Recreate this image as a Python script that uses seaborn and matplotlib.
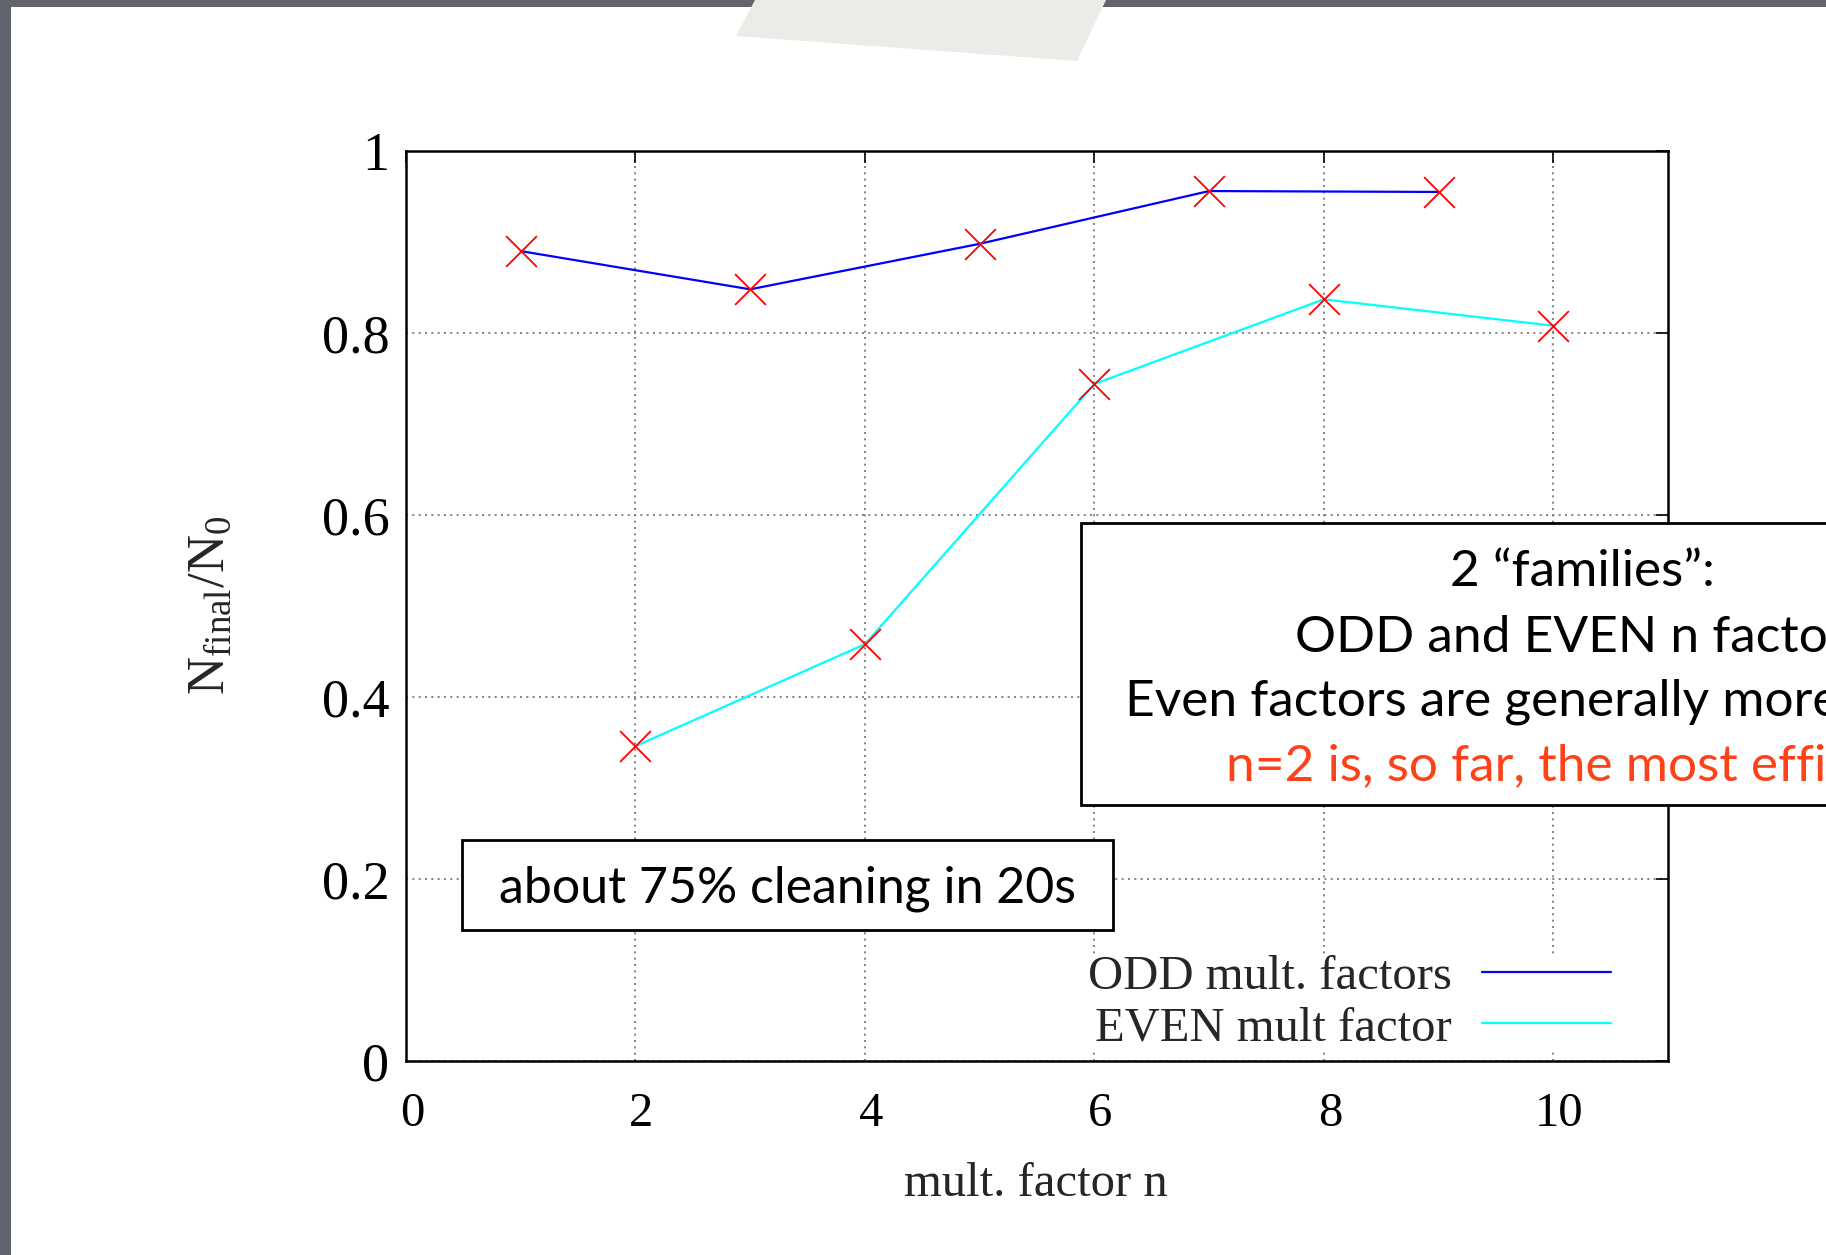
import matplotlib
matplotlib.use("Agg")
import matplotlib.pyplot as plt
import matplotlib.transforms as mtransforms
import seaborn as sns
from matplotlib.patches import Rectangle, Polygon

# ---------------- data ----------------
odd_n = [1, 3, 5, 7, 9]
odd_ratio = [0.890, 0.848, 0.898, 0.956, 0.955]
even_n = [2, 4, 6, 8, 10]
even_ratio = [0.346, 0.458, 0.744, 0.837, 0.808]

x_ticks = [0, 2, 4, 6, 8, 10]
x_tick_labels = ["0", "2", "4", "6", "8", "10"]
y_ticks = [0, 0.2, 0.4, 0.6, 0.8, 1.0]
y_tick_labels = ["0", "0.2", "0.4", "0.6", "0.8", "1"]
legend_labels = ["ODD mult. factors", "EVEN mult factor"]
x_label = "mult. factor n"
y_label = r"$\mathrm{N_{final}/N_0}$"
note_lines = ["2 \u201cfamilies\u201d:",
              "ODD and EVEN n factors",
              "Even factors are generally more efficient",
              "n=2 is, so far, the most efficient"]
note_colors = ["black", "black", "black", "#ff4118"]
small_note = "about 75% cleaning in 20s"

# ---------------- style ----------------
sns.set_style("white")
plt.rcParams["font.family"] = ["Liberation Serif", "DejaVu Serif"]
plt.rcParams["mathtext.fontset"] = "custom"
plt.rcParams["mathtext.rm"] = "Liberation Serif"
plt.rcParams["mathtext.it"] = "Liberation Serif:italic"

W, H = 1826, 1255
fig = plt.figure(figsize=(W / 100, H / 100), dpi=100, facecolor="#61646f")


def fx(px):
    return px / W


def fy(py):
    return 1 - py / H


# white slide
fig.add_artist(Rectangle((fx(11), 0), 1 - fx(11), fy(7), transform=fig.transFigure,
                         facecolor="white", edgecolor="none", zorder=-10))

ax = fig.add_axes([fx(406), fy(1061), (1668 - 406) / W, (1061 - 151) / H])
ax.set_facecolor("white")

sns.lineplot(x=odd_n, y=odd_ratio, color="#0000ff", linewidth=1.6,
             label=legend_labels[0], ax=ax, zorder=3)
sns.lineplot(x=even_n, y=even_ratio, color="#00ffff", linewidth=1.6,
             label=legend_labels[1], ax=ax, zorder=3)
sns.scatterplot(x=odd_n + even_n, y=odd_ratio + even_ratio, marker="x",
                color="#ff0000", s=490, linewidth=1.3, ax=ax, zorder=4, legend=False)

ax.set_xlim(0, 11)
ax.set_ylim(0, 1)
ax.set_xticks(x_ticks)
ax.set_xticklabels(x_tick_labels)
ax.set_yticks(y_ticks)
ax.set_yticklabels(y_tick_labels)
ax.tick_params(direction="in", length=8.5, width=1.2, top=True, right=True,
               colors="black")
ax.tick_params(axis="x", pad=22, labelsize=35)
ax.tick_params(axis="y", pad=12, labelsize=39)
shift = mtransforms.ScaledTranslation(6 / 100, 0, fig.dpi_scale_trans)
for lab in ax.get_xticklabels():
    lab.set_transform(lab.get_transform() + shift)
ax.grid(True, color="#707070", linewidth=1.2, linestyle=(0, (1.2, 2.6)))
for s in ax.spines.values():
    s.set_visible(True)
    s.set_linewidth(1.8)
    s.set_color("black")

ax.set_xlabel(x_label, fontsize=35)
ax.xaxis.set_label_coords(0.499, -0.135)
ax.xaxis.label.set_va("center")
ax.set_ylabel(y_label, fontsize=38)
ax.yaxis.set_label_coords(-0.155, 0.501)
ax.yaxis.label.set_va("center")

handles, labels = ax.get_legend_handles_labels()
leg = ax.legend(handles[:2], labels[:2], loc="lower right",
                bbox_to_anchor=(0.955, 0.012), fontsize=35, markerfirst=False,
                frameon=True, facecolor="white", edgecolor="none", framealpha=1,
                handlelength=2.65, handletextpad=0.63, labelspacing=0.15,
                borderpad=0.0, borderaxespad=0)
leg.set_zorder(5)

# ---------------- annotation boxes ----------------
fig.add_artist(Rectangle((fx(1081), fy(805)), 1.0, (805 - 523) / H,
                         transform=fig.transFigure, facecolor="white",
                         edgecolor="black", linewidth=2.0, zorder=10))
line_y = [572, 638, 702, 766]
for txt, yy, col in zip(note_lines, line_y, note_colors):
    fig.text(fx(1582), fy(yy), txt, ha="center", va="center", fontsize=37,
             family=["Lato", "DejaVu Sans"], color=col, zorder=11)

fig.add_artist(Rectangle((fx(462), fy(930)), (1113 - 462) / W, (930 - 840) / H,
                         transform=fig.transFigure, facecolor="white",
                         edgecolor="black", linewidth=2.0, zorder=10))
fig.text(fx(787), fy(889), small_note, ha="center", va="center", fontsize=36,
         family=["Lato", "DejaVu Sans"], color="black", zorder=11)

# paper strip at the top
fig.add_artist(Polygon([(fx(755), fy(0)), (fx(736), fy(36)), (fx(1077), fy(61)),
                        (fx(1106), fy(0))], closed=True, transform=fig.transFigure,
                       facecolor="#ecebe7", edgecolor="none", zorder=12))

fig.savefig("out.png", dpi=100, facecolor=fig.get_facecolor())
